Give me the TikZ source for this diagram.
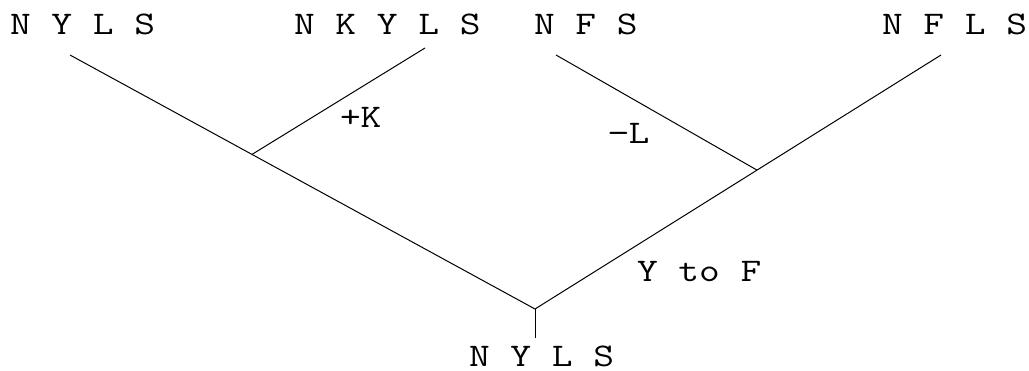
\documentclass[tikz,border=0pt]{standalone}
\usepackage{fontspec}
\newfontfamily\treefont{Latin Modern Mono}[FakeStretch=1.22]
\begin{document}
\begin{tikzpicture}[x=1pt,y=-1pt,
  lbl/.style={anchor=base west,inner sep=0pt,outer sep=0pt,font=\treefont\fontsize{33}{38}\selectfont},
  edge/.style={line width=1pt,line cap=butt}]
\useasboundingbox (0,0) rectangle (1029,370);
% sequence labels
\node[lbl] (nyls)  at (10,34)  {N Y L S};
\node[lbl] (nkyls) at (294,34) {N K Y L S};
\node[lbl] (nfs)   at (534,34) {N F S};
\node[lbl] (nfls)  at (882,34) {N F L S};
\node[lbl] (base)  at (469,366) {N Y L S};
% mutation labels
\node[lbl] (addk) at (340,127) {+K};
\node[lbl] (dell) at (608,143) {−L};
\node[lbl] (ytof) at (637,281) {Y to F};
% branch ends and junctions
\coordinate (a) at (70,55);
\coordinate (b) at (425,48);
\coordinate (c) at (556,55);
\coordinate (d) at (941,55);
\coordinate (j1) at (252,154.4);
\coordinate (j2) at (757,170.1);
\coordinate (root) at (535,309);
\coordinate (stem) at (535,338);
% branches
\draw[edge] (a) -- (root);
\draw[edge] (d) -- (root);
\draw[edge] (b) -- (j1);
\draw[edge] (c) -- (j2);
\draw[edge] (root) -- (stem);
\end{tikzpicture}
\end{document}
